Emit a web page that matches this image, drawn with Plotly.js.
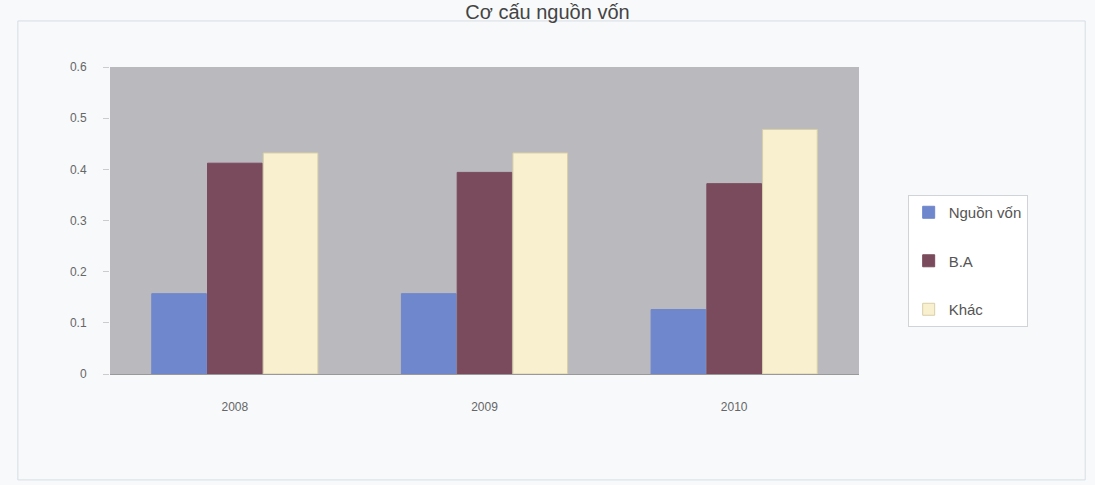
<!DOCTYPE html>
<html>
<head>
<meta charset="utf-8">
<script src="https://cdn.plot.ly/plotly-3.0.1.min.js"></script>
<style>html,body{margin:0;padding:0;background:#f7f9fb;}#chart{width:1095px;height:485px;}</style>
</head>
<body>
<div id="chart"></div>
<script>
const categories = ["2008", "2009", "2010"];
const seriesNames = ["Nguồn vốn", "B.A", "Khác"];
const seriesA = [0.157, 0.157, 0.126];
const seriesB = [0.412, 0.394, 0.372];
const seriesC = [0.432, 0.432, 0.478];
const yTicks = [0, 0.1, 0.2, 0.3, 0.4, 0.5, 0.6];
const yTickLabels = ["0", "0.1", "0.2", "0.3", "0.4", "0.5", "0.6"];
const titleText = "Cơ cấu nguồn vốn";

const colors = ["#6f87cc", "#7a4b5c", "#f8f0cf"];
const vals = [seriesA, seriesB, seriesC];
const traces = vals.map((v, i) => ({
  type: "bar",
  name: seriesNames[i],
  legendgroup: "g" + i,
  x: categories,
  y: v,
  marker: {color: colors[i], line: {color: i === 2 ? "#d8cfa8" : colors[i], width: 1}}
}));

const layout = {
  width: 1095, height: 485,
  paper_bgcolor: "#f7f9fb",
  plot_bgcolor: "#b9b9be",
  font: {family: "Liberation Sans, Arial, sans-serif", size: 12, color: "#555"},
  title: {text: titleText, x: 0.5, xanchor: "center", y: 0.975, yanchor: "middle", font: {size: 20, color: "#444"}},
  margin: {l: 110, r: 236, t: 67, b: 111},
  barmode: "group",
  bargap: 0.33,
  bargroupgap: 0.02,
  showlegend: true,
  legend: {x: 1.065, y: 0.583, xanchor: "left", yanchor: "top", bgcolor: "#ffffff", bordercolor: "#d0d4d8", borderwidth: 1, font: {size: 15, color: "#555"}, tracegroupgap: 26, itemwidth: 30},
  xaxis: {showgrid: false, ticks: "", showline: true, linecolor: "#999", ticklabelstandoff: 22, tickfont: {size: 12, color: "#666"}},
  yaxis: {range: [0, 0.6], tickvals: yTicks, ticktext: yTickLabels, showgrid: false, zeroline: false, ticks: "outside", ticklen: 6, tickcolor: "#ccc", ticklabelstandoff: 14, tickfont: {size: 12, color: "#666"}},
  shapes: [
    {type: "rect", xref: "paper", yref: "paper", x0: -0.123, x1: 1.302, y0: -0.345, y1: 1.15, line: {color: "#d8dde2", width: 1}, fillcolor: "rgba(0,0,0,0)", layer: "below"}
  ]
};
Plotly.newPlot("chart", traces, layout, {staticPlot: true});
</script>
</body>
</html>
